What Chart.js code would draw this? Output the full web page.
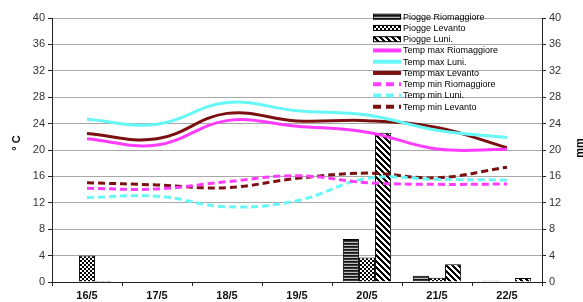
<!DOCTYPE html>
<html>
<head>
<meta charset="utf-8">
<script src="https://cdn.jsdelivr.net/npm/chart.js@4/dist/chart.umd.min.js"></script>
<style>
html,body{margin:0;padding:0;background:#fff;}
#wrap{width:583px;height:302px;position:relative;}
</style>
</head>
<body>
<div id="wrap"><canvas id="c" width="583" height="302"></canvas></div>
<script>
const categories = ['16/5','17/5','18/5','19/5','20/5','21/5','22/5'];
const rainRiomaggiore = [0, 0, 0, 0, 6.5, 0.95, 0.2];
const rainLevanto     = [4, 0, 0, 0, 3.7, 0.65, 0];
const rainLuni        = [0.15, 0, 0, 0, 22.6, 2.7, 0.6];
const tMaxRiomaggiore = [21.7, 20.75, 24.45, 23.6, 22.7, 20.15, 20.1];
const tMaxLuni        = [24.65, 23.9, 27.2, 25.95, 25.3, 23.0, 21.9];
const tMaxLevanto     = [22.5, 21.7, 25.55, 24.4, 24.45, 23.4, 20.35];
const tMinRiomaggiore = [14.2, 14.1, 15.2, 16.1, 15.05, 14.8, 14.85];
const tMinLuni        = [12.8, 13.0, 11.4, 12.3, 15.7, 15.55, 15.45];
const tMinLevanto     = [15.05, 14.7, 14.3, 15.7, 16.5, 15.8, 17.4];
const yTicks = [0,4,8,12,16,20,24,28,32,36,40];

const MAGENTA = '#ff3cff', CYAN = '#66f7f7', DARKRED = '#7a1010';

function pattern(kind){
  const s = kind === 'h' ? 3 : (kind === 'c' ? 4 : 6);
  const cv = document.createElement('canvas');
  cv.width = s; cv.height = s;
  const g = cv.getContext('2d');
  const img = g.createImageData(s, s);
  for (let y = 0; y < s; y++) for (let x = 0; x < s; x++) {
    let v;
    if (kind === 'h') v = (y === 2) ? 190 : (y === 1 ? 60 : 20);
    else if (kind === 'c') v = (((x >> 1) + (y >> 1)) % 2) ? 255 : 0;
    else v = (((x - y) % s + s) % s) < 3 ? 0 : 255;
    const i = (y * s + x) * 4;
    img.data[i] = img.data[i+1] = img.data[i+2] = v; img.data[i+3] = 255;
  }
  g.putImageData(img, 0, 0);
  return document.getElementById('c').getContext('2d').createPattern(cv, 'repeat');
}
const patH = pattern('h'), patC = pattern('c'), patD = pattern('d');

function barDs(label, data, pat){
  return {type:'bar', label, data, yAxisID:'y2', backgroundColor:pat, borderColor:'#000',
          borderWidth:1, order:2, categoryPercentage:0.69, barPercentage:1.0};
}
function lineDs(label, data, color, dashed){
  return {type:'line', label, data, yAxisID:'y', borderColor:color, backgroundColor:color,
          borderWidth:3, borderDash: dashed ? [7,4] : [], pointRadius:0, tension:0.4, fill:false, order:1};
}

const datasets = [
  barDs('Piogge Riomaggiore', rainRiomaggiore, patH),
  barDs('Piogge Levanto', rainLevanto, patC),
  barDs('Piogge Luni.', rainLuni, patD),
  lineDs('Temp max Riomaggiore', tMaxRiomaggiore, MAGENTA, false),
  lineDs('Temp max Luni.', tMaxLuni, CYAN, false),
  lineDs('Temp max Levanto', tMaxLevanto, DARKRED, false),
  lineDs('Temp min Riomaggiore', tMinRiomaggiore, MAGENTA, true),
  lineDs('Temp min Luni.', tMinLuni, CYAN, true),
  lineDs('Temp min Levanto', tMinLevanto, DARKRED, true)
];

const FONT = '"Liberation Sans", Arial, sans-serif';

const legendPlugin = {
  id:'customLegend',
  afterDraw(chart){
    const ctx = chart.ctx;
    ctx.save();
    const x0 = 373, x1 = 401, ty = 16.7, dy = 11.25;
    chart.data.datasets.forEach((ds, i) => {
      const y = ty + i * dy;
      if (ds.type === 'bar') {
        ctx.fillStyle = ds.backgroundColor;
        ctx.fillRect(x0, y - 2.5, x1 - x0, 5);
        ctx.strokeStyle = '#000'; ctx.lineWidth = 1;
        ctx.strokeRect(x0 + 0.5, y - 2.5, x1 - x0 - 1, 5);
      } else {
        ctx.strokeStyle = ds.borderColor; ctx.lineWidth = 4;
        ctx.setLineDash(ds.borderDash.length ? [8,5] : []);
        ctx.beginPath(); ctx.moveTo(x0, y); ctx.lineTo(x1, y); ctx.stroke();
        ctx.setLineDash([]);
      }
      ctx.fillStyle = '#000';
      ctx.font = '9px ' + FONT;
      ctx.textBaseline = 'middle'; ctx.textAlign = 'left';
      ctx.fillText(ds.label, 403, y + 0.5);
    });
    // axis titles
    ctx.font = 'bold 11px ' + FONT;
    ctx.textAlign = 'center'; ctx.textBaseline = 'middle';
    ctx.save(); ctx.translate(17, 143); ctx.rotate(-Math.PI/2); ctx.fillText('° C', 0, 0); ctx.restore();
    ctx.save(); ctx.translate(580, 148); ctx.rotate(-Math.PI/2); ctx.fillText('mm', 0, 0); ctx.restore();
    ctx.restore();
  }
};

new Chart(document.getElementById('c'), {
  type:'bar',
  data:{labels:categories, datasets},
  options:{
    responsive:false, animation:false,
    layout:{padding:{top:18, left:0, right:0, bottom:0}},
    plugins:{legend:{display:false}, tooltip:{enabled:false}},
    scales:{
      x:{
        offset:true,
        grid:{display:true, drawOnChartArea:false, offset:true, tickLength:4, tickColor:'#222'},
        border:{color:'#222'},
        ticks:{font:{family:FONT, size:11, weight:'bold'}, color:'#111', padding:3, maxRotation:0},
        afterFit(s){ s.height = 20; }
      },
      y:{
        position:'left', min:0, max:40,
        afterBuildTicks(s){ s.ticks = yTicks.map(v => ({value:v})); },
        grid:{color:'#a8a8a8', tickColor:'#222', tickLength:4, lineWidth:1},
        border:{color:'#222'},
        ticks:{font:{family:FONT, size:11}, color:'#333', padding:3},
        afterFit(s){ s.width = 52; }
      },
      y2:{
        position:'right', min:0, max:40,
        afterBuildTicks(s){ s.ticks = yTicks.map(v => ({value:v})); },
        grid:{drawOnChartArea:false, tickColor:'#222', tickLength:4},
        border:{color:'#222'},
        ticks:{font:{family:FONT, size:11}, color:'#333', padding:3},
        afterFit(s){ s.width = 41; }
      }
    }
  },
  plugins:[legendPlugin]
});
</script>
</body>
</html>
